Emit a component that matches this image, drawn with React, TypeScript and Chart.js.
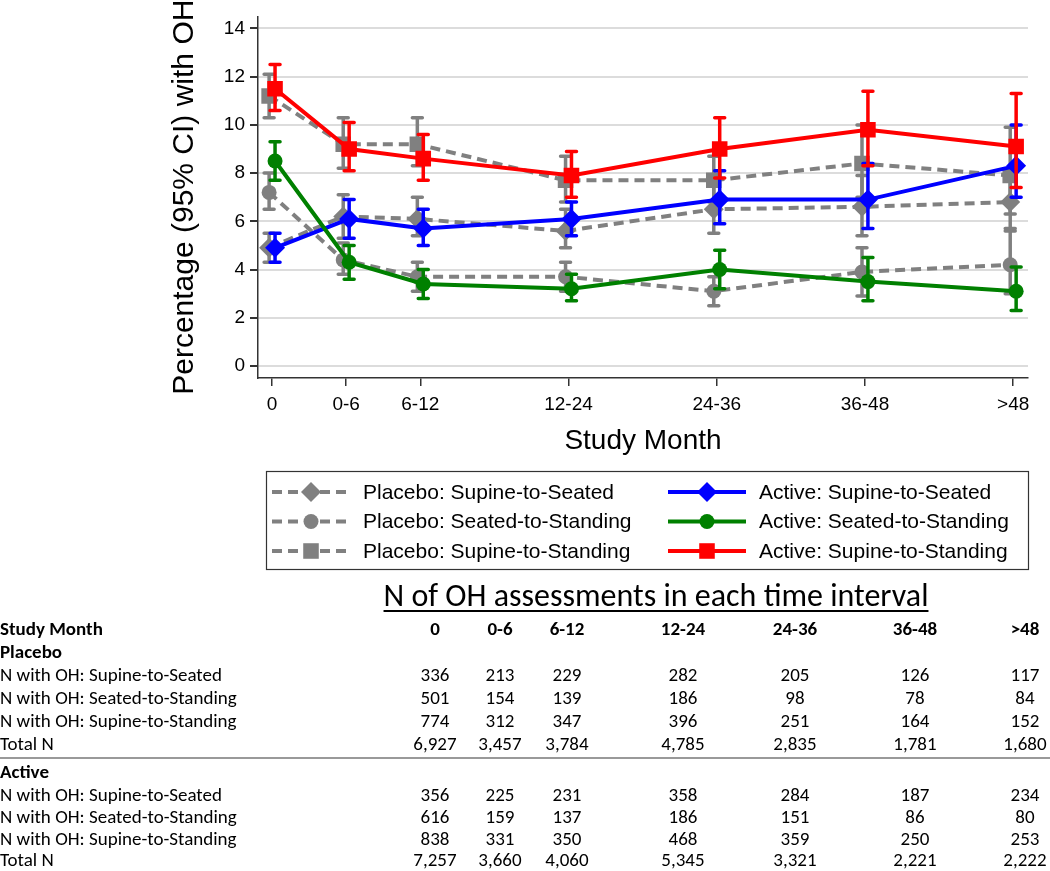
import React, { useEffect, useRef } from "react";
import { Chart, registerables } from "chart.js";

Chart.register(...registerables);

// ---------------- data ----------------
const categories = ["0", "0-6", "6-12", "12-24", "24-36", "36-48", ">48"];
const xPositions = [0, 1, 2, 4, 6, 8, 10];
const yTicks = [0, 2, 4, 6, 8, 10, 12, 14];

const placeboSupSeatMean = [4.9, 6.2, 6.1, 5.6, 6.5, 6.6, 6.8];
const placeboSupSeatLo = [4.3, 5.3, 5.4, 4.9, 5.5, 5.4, 5.7];
const placeboSupSeatHi = [5.5, 7.1, 7.0, 6.5, 7.5, 7.9, 8.1];

const placeboSeatStandMean = [7.2, 4.4, 3.7, 3.7, 3.1, 3.9, 4.2];
const placeboSeatStandLo = [6.5, 3.8, 3.1, 3.1, 2.5, 2.9, 3.0];
const placeboSeatStandHi = [8.0, 5.1, 4.3, 4.3, 3.7, 4.9, 5.6];

const placeboSupStandMean = [11.2, 9.2, 9.2, 7.7, 7.7, 8.4, 7.9];
const placeboSupStandLo = [10.3, 8.2, 8.3, 6.8, 6.8, 7.0, 6.3];
const placeboSupStandHi = [12.1, 10.3, 10.3, 8.7, 8.7, 10.0, 9.9];

const activeSupSeatMean = [4.9, 6.1, 5.7, 6.1, 6.9, 6.9, 8.3];
const activeSupSeatLo = [4.3, 5.3, 5.0, 5.4, 5.9, 5.7, 7.0];
const activeSupSeatHi = [5.5, 6.9, 6.5, 6.8, 8.1, 8.4, 10.0];

const activeSeatStandMean = [8.5, 4.3, 3.4, 3.2, 4.0, 3.5, 3.1];
const activeSeatStandLo = [7.7, 3.6, 2.8, 2.7, 3.2, 2.7, 2.3];
const activeSeatStandHi = [9.3, 5.0, 4.0, 3.8, 4.8, 4.5, 4.1];

const activeSupStandMean = [11.5, 9.0, 8.6, 7.9, 9.0, 9.8, 9.1];
const activeSupStandLo = [10.6, 8.1, 7.7, 7.0, 7.8, 8.3, 7.4];
const activeSupStandHi = [12.5, 10.1, 9.6, 8.9, 10.3, 11.4, 11.3];

// table data
const tableTitle = "N of OH assessments in each time interval";
const rowLabels = [
  "N with OH: Supine-to-Seated",
  "N with OH: Seated-to-Standing",
  "N with OH: Supine-to-Standing",
  "Total N",
];
const placeboSupSeatN = ["336", "213", "229", "282", "205", "126", "117"];
const placeboSeatStandN = ["501", "154", "139", "186", "98", "78", "84"];
const placeboSupStandN = ["774", "312", "347", "396", "251", "164", "152"];
const placeboTotalN = ["6,927", "3,457", "3,784", "4,785", "2,835", "1,781", "1,680"];
const activeSupSeatN = ["356", "225", "231", "358", "284", "187", "234"];
const activeSeatStandN = ["616", "159", "137", "186", "151", "86", "80"];
const activeSupStandN = ["838", "331", "350", "468", "359", "250", "253"];
const activeTotalN = ["7,257", "3,660", "4,060", "5,345", "3,321", "2,221", "2,222"];

// ---------------- styles ----------------
const GRAY = "rgb(128,128,128)";
const BLUE = "rgb(0,0,255)";
const GREEN = "rgb(0,128,0)";
const RED = "rgb(255,0,0)";
const SANS = "'Liberation Sans', Arial, sans-serif";
const TABLE_FONT = "Carlito, Calibri, Lato, sans-serif";

const series = [
  { label: "Placebo: Supine-to-Seated", mean: placeboSupSeatMean, lo: placeboSupSeatLo, hi: placeboSupSeatHi, color: GRAY, dashed: true, style: "rectRot", radius: 10, shift: -0.04 },
  { label: "Placebo: Seated-to-Standing", mean: placeboSeatStandMean, lo: placeboSeatStandLo, hi: placeboSeatStandHi, color: GRAY, dashed: true, style: "circle", radius: 7.5, shift: -0.04 },
  { label: "Placebo: Supine-to-Standing", mean: placeboSupStandMean, lo: placeboSupStandLo, hi: placeboSupStandHi, color: GRAY, dashed: true, style: "rect", radius: 11, shift: -0.04 },
  { label: "Active: Supine-to-Seated", mean: activeSupSeatMean, lo: activeSupSeatLo, hi: activeSupSeatHi, color: BLUE, dashed: false, style: "rectRot", radius: 10, shift: 0.04 },
  { label: "Active: Seated-to-Standing", mean: activeSeatStandMean, lo: activeSeatStandLo, hi: activeSeatStandHi, color: GREEN, dashed: false, style: "circle", radius: 7.5, shift: 0.04 },
  { label: "Active: Supine-to-Standing", mean: activeSupStandMean, lo: activeSupStandLo, hi: activeSupStandHi, color: RED, dashed: false, style: "rect", radius: 11, shift: 0.04 },
];

const DASH = [10, 6];

const errorBarPlugin = {
  id: "errorBars",
  beforeDatasetDraw(chart: any, args: any) {
    const ds: any = chart.data.datasets[args.index];
    const { ctx } = chart;
    const x = chart.scales.x;
    const y = chart.scales.y;
    ctx.save();
    ctx.strokeStyle = ds.borderColor;
    ctx.lineWidth = 3.5;
    ctx.lineCap = "round";
    ctx.setLineDash([]);
    ds.data.forEach((p: any, i: number) => {
      const px = x.getPixelForValue(p.x);
      const top = y.getPixelForValue(ds.errHi[i]);
      const bot = y.getPixelForValue(ds.errLo[i]);
      ctx.beginPath();
      ctx.moveTo(px, top);
      ctx.lineTo(px, bot);
      ctx.moveTo(px - 5, top);
      ctx.lineTo(px + 5, top);
      ctx.moveTo(px - 5, bot);
      ctx.lineTo(px + 5, bot);
      ctx.stroke();
    });
    ctx.restore();
  },
};

function drawMarker(ctx: CanvasRenderingContext2D, style: string, x: number, y: number, r: number, color: string) {
  ctx.fillStyle = color;
  ctx.beginPath();
  if (style === "circle") {
    ctx.arc(x, y, r, 0, Math.PI * 2);
  } else if (style === "rect") {
    const s = r * Math.SQRT1_2;
    ctx.rect(x - s, y - s, 2 * s, 2 * s);
  } else {
    ctx.moveTo(x - r, y);
    ctx.lineTo(x, y - r);
    ctx.lineTo(x + r, y);
    ctx.lineTo(x, y + r);
    ctx.closePath();
  }
  ctx.fill();
}

const legendPlugin = {
  id: "customLegend",
  afterDraw(chart: any) {
    const { ctx } = chart;
    ctx.save();
    const bx = 266, by = 471, bw = 762, bh = 98;
    ctx.strokeStyle = "#333";
    ctx.lineWidth = 1.2;
    ctx.setLineDash([]);
    ctx.strokeRect(bx + 0.5, by + 0.5, bw, bh);
    const colX = [272, 668];
    const rowY = [492, 521.5, 551];
    ctx.font = `21px ${SANS}`;
    ctx.textBaseline = "middle";
    ctx.textAlign = "left";
    series.forEach((s, i) => {
      const col = i < 3 ? 0 : 1;
      const row = i % 3;
      const x0 = colX[col];
      const yy = rowY[row];
      ctx.strokeStyle = s.color;
      ctx.lineWidth = 4;
      ctx.setLineDash(s.dashed ? DASH : []);
      ctx.beginPath();
      ctx.moveTo(x0, yy);
      ctx.lineTo(x0 + 78, yy);
      ctx.stroke();
      ctx.setLineDash([]);
      drawMarker(ctx, s.style, x0 + 39, yy, s.radius, s.color);
      ctx.fillStyle = "#000";
      ctx.fillText(s.label, x0 + 91, yy + 1);
    });
    ctx.restore();
  },
};

function ChartCanvas() {
  const ref = useRef<HTMLCanvasElement | null>(null);
  useEffect(() => {
    if (!ref.current) return;
    const datasets = series.map((s, i) => ({
      label: s.label,
      data: s.mean.map((v, j) => ({ x: xPositions[j] + s.shift, y: v })),
      errLo: s.lo,
      errHi: s.hi,
      borderColor: s.color,
      backgroundColor: s.color,
      borderWidth: 4,
      borderDash: s.dashed ? DASH : [],
      pointStyle: s.style,
      pointRadius: s.radius,
      pointBorderWidth: 0,
      pointBackgroundColor: s.color,
      pointBorderColor: s.color,
      tension: 0,
      fill: false,
      order: series.length - 1 - i,
    }));
    const chart = new Chart(ref.current, {
      type: "line",
      data: { datasets } as any,
      options: {
        animation: false,
        responsive: false,
        devicePixelRatio: 1,
        events: [],
        layout: { padding: { top: 8, right: 22, left: 0, bottom: 411 } },
        plugins: { legend: { display: false }, tooltip: { enabled: false }, title: { display: false } },
        scales: {
          x: {
            type: "linear",
            min: -0.19,
            max: 10.2,
            afterBuildTicks: (s: any) => {
              s.ticks = xPositions.map((v) => ({ value: v }));
            },
            afterFit: (s: any) => {
              s.height = 82;
            },
            grid: { drawOnChartArea: false, drawTicks: true, tickLength: 8, tickColor: "#333", color: "#333", lineWidth: 1.5 },
            border: { color: "#333", width: 1.5 },
            ticks: {
              autoSkip: false,
              maxRotation: 0,
              color: "#000",
              padding: 7,
              font: { family: SANS, size: 19 },
              callback: (_v: any, i: number) => categories[i],
            },
            title: { display: true, text: "Study Month", color: "#000", font: { family: SANS, size: 28 }, padding: { top: 0, bottom: 2 } },
          },
          y: {
            type: "linear",
            min: -0.5,
            max: 14.5,
            afterBuildTicks: (s: any) => {
              s.ticks = yTicks.map((v) => ({ value: v }));
            },
            afterFit: (s: any) => {
              s.width = 258;
            },
            grid: { color: "#dcdcdc", lineWidth: 2, drawTicks: true, tickLength: 8, tickColor: "#333" },
            border: { color: "#333", width: 1.5 },
            ticks: { color: "#000", padding: 5, font: { family: SANS, size: 19 } },
            title: { display: true, text: "Percentage (95% CI) with OH", color: "#000", font: { family: SANS, size: 30 }, padding: { top: 167, bottom: 0 } },
          },
        },
      } as any,
      plugins: [errorBarPlugin, legendPlugin],
    });
    return () => chart.destroy();
  }, []);
  return <canvas ref={ref} width={1050} height={871} style={{ position: "absolute", left: 0, top: 0, width: 1050, height: 871 }} />;
}

const colCenters = [435, 500, 567, 683, 795, 915, 1025];

function Cell({ x, y, text, bold, align }: { x: number; y: number; text: string; bold?: boolean; align: "left" | "center" }) {
  const style: React.CSSProperties = {
    position: "absolute",
    top: y - 12,
    height: 24,
    lineHeight: "24px",
    fontFamily: TABLE_FONT,
    fontSize: 19,
    fontWeight: bold ? 700 : 400,
    color: "#000",
    whiteSpace: "nowrap",
  };
  style.left = x;
  if (align === "center") style.transform = "translateX(-50%)";
  return <div style={style}>{text}</div>;
}

function Table() {
  const rowsY = { header: 629, placebo: 652, p: [675, 698, 721, 744], line: 757, active: 772, a: [795, 817, 839, 860] };
  const placeboRows = [placeboSupSeatN, placeboSeatStandN, placeboSupStandN, placeboTotalN];
  const activeRows = [activeSupSeatN, activeSeatStandN, activeSupStandN, activeTotalN];
  const cells: React.ReactNode[] = [];
  cells.push(<Cell key="h" x={0} y={rowsY.header} text="Study Month" bold align="left" />);
  categories.forEach((c, i) => cells.push(<Cell key={"hc" + i} x={colCenters[i]} y={rowsY.header} text={c} bold align="center" />));
  cells.push(<Cell key="pl" x={0} y={rowsY.placebo} text="Placebo" bold align="left" />);
  placeboRows.forEach((row, r) => {
    cells.push(<Cell key={"pr" + r} x={0} y={rowsY.p[r]} text={rowLabels[r]} align="left" />);
    row.forEach((v, i) => cells.push(<Cell key={"pv" + r + "_" + i} x={colCenters[i]} y={rowsY.p[r]} text={v} align="center" />));
  });
  cells.push(<Cell key="ac" x={0} y={rowsY.active} text="Active" bold align="left" />);
  activeRows.forEach((row, r) => {
    cells.push(<Cell key={"ar" + r} x={0} y={rowsY.a[r]} text={rowLabels[r]} align="left" />);
    row.forEach((v, i) => cells.push(<Cell key={"av" + r + "_" + i} x={colCenters[i]} y={rowsY.a[r]} text={v} align="center" />));
  });
  return (
    <>
      <div
        style={{
          position: "absolute",
          left: 656,
          top: 577,
          transform: "translateX(-50%)",
          fontFamily: TABLE_FONT,
          fontSize: 32,
          lineHeight: "38px",
          textDecoration: "underline",
          textDecorationThickness: "2px",
          textUnderlineOffset: "4px",
          whiteSpace: "nowrap",
          color: "#000",
        }}
      >
        {tableTitle}
      </div>
      <div style={{ position: "absolute", left: 0, top: rowsY.line, width: 1050, height: 2, background: "#999" }} />
      {cells}
    </>
  );
}

export default function App() {
  return (
    <div style={{ position: "absolute", left: 0, top: 0, width: 1050, height: 871, background: "#fff", overflow: "hidden" }}>
      <ChartCanvas />
      <Table />
    </div>
  );
}
